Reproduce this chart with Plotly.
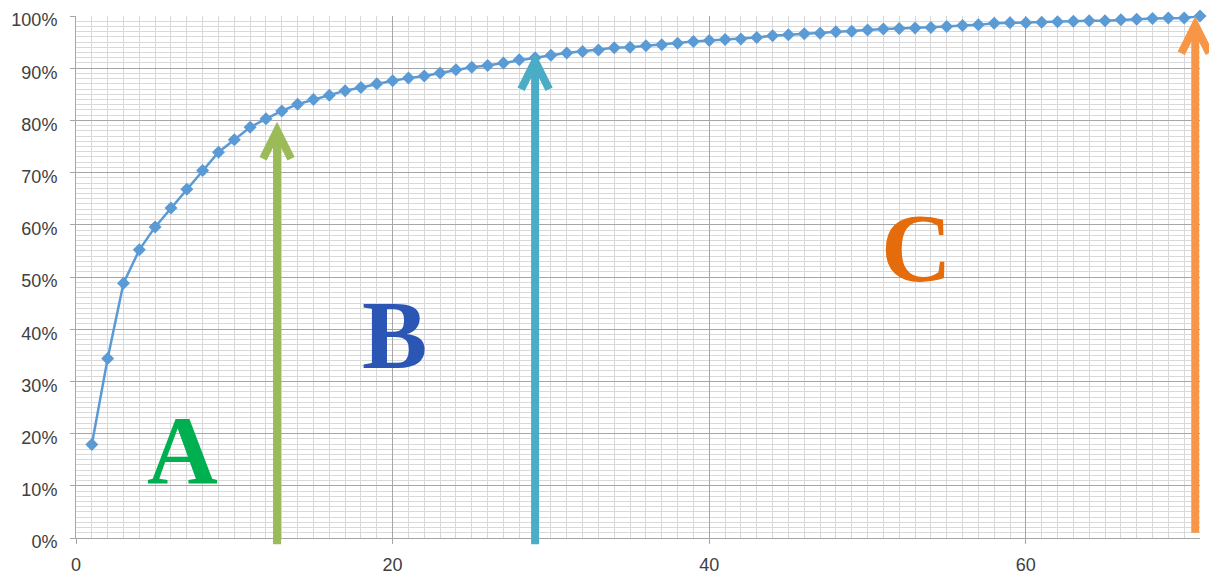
import plotly.graph_objects as go

# ---- data ----
rank = list(range(1, 72))
cum_pct = [17.9, 34.4, 48.8, 55.2, 59.6, 63.2, 66.8, 70.4, 73.9, 76.3,
           78.7, 80.3, 81.8, 83.1, 84.0, 84.8, 85.7, 86.3, 87.0, 87.6,
           88.1, 88.5, 89.1, 89.7, 90.2, 90.5, 91.0, 91.6, 92.0, 92.5,
           92.9, 93.2, 93.5, 93.9, 94.0, 94.3, 94.5, 94.8, 95.1, 95.3,
           95.5, 95.6, 95.9, 96.2, 96.4, 96.6, 96.7, 97.0, 97.1, 97.3,
           97.5, 97.6, 97.7, 97.8, 98.0, 98.2, 98.3, 98.6, 98.7, 98.7,
           98.8, 98.9, 99.0, 99.1, 99.1, 99.3, 99.4, 99.5, 99.6, 99.6, 100.0]

x_ticks = [0, 20, 40, 60]
y_ticks = list(range(0, 101, 10))
y_ticklabels = [f"{v}%" for v in y_ticks]

# class boundaries (A/B/C) marked by arrows: x position, tip %, bottom %
arrow_x = [12.7, 29.0, 70.7]
arrow_tip = [78.8, 92.1, 99.0]
arrow_bottom = [-1.2, -1.2, 1.0]
arrow_colors = ["#9BBB59", "#4BACC6", "#F79646"]

labels = ["A", "B", "C"]
label_x = [6.75, 20.1, 53.1]
label_y = [16.5, 38.5, 55.2]
label_colors = ["#00B050", "#2C56B4", "#E46C0A"]

X_RANGE = [0, 71]
Y_RANGE = [0, 100]

# page body has an 8px margin; compensate in the figure margins
W, H = 1217, 575
ML, MR, MT, MB = 68, 25, 8, 45
PW, PH = W - ML - MR, H - MT - MB

def dx(v):
    return (v - X_RANGE[0]) / (X_RANGE[1] - X_RANGE[0])

def dy(v):
    return (v - Y_RANGE[0]) / (Y_RANGE[1] - Y_RANGE[0])

fig = go.Figure()
fig.add_trace(go.Scatter(
    x=rank, y=cum_pct, mode="lines+markers",
    line=dict(color="#5B9BD5", width=2.5),
    marker=dict(symbol="diamond", size=10, color="#5B9BD5"),
    showlegend=False, cliponaxis=False,
))

shapes = []
for xv, tip, bot, col in zip(arrow_x, arrow_tip, arrow_bottom, arrow_colors):
    fx, ft, fb = dx(xv), dy(tip), dy(bot)
    tipy = ft - 4 / PH
    shapes.append(dict(type="line", xref="x domain", yref="y domain",
                       x0=fx, x1=fx, y0=fb, y1=tipy,
                       line=dict(color=col, width=8), layer="above"))
    hw, hh = 14 / PW, 28 / PH
    path = (f"M {fx - hw},{tipy - hh} L {fx},{tipy} L {fx + hw},{tipy - hh}")
    shapes.append(dict(type="path", xref="x domain", yref="y domain",
                       path=path, line=dict(color=col, width=8),
                       layer="above"))

annotations = []
for t, xv, yv, col in zip(labels, label_x, label_y, label_colors):
    annotations.append(dict(
        x=xv, y=yv, xref="x", yref="y", text=f"<b>{t}</b>", showarrow=False,
        font=dict(family="Liberation Serif, DejaVu Serif, serif", size=98,
                  color=col),
        xanchor="center", yanchor="middle", yshift=2,
    ))

axis_common = dict(
    showgrid=True, gridcolor="#A6A6A6", gridwidth=1,
    minor=dict(dtick=1, showgrid=True, gridcolor="#D9D9D9",
               gridwidth=1, ticks=""),
    showline=True, linecolor="#A6A6A6", linewidth=1,
    ticks="outside", ticklen=5, tickcolor="#A6A6A6",
    zeroline=False, fixedrange=True, automargin=False,
    ticklabeloverflow="allow",
)

fig.update_layout(
    width=W, height=H,
    margin=dict(l=ML, r=MR, t=MT, b=MB, pad=0, autoexpand=False),
    paper_bgcolor="white", plot_bgcolor="white",
    font=dict(family="Liberation Sans, Arial, sans-serif", size=18,
              color="#404040"),
    shapes=shapes, annotations=annotations,
    xaxis=dict(range=X_RANGE, tickvals=x_ticks, ticklabelstandoff=5,
               **axis_common),
    yaxis=dict(range=Y_RANGE, tickvals=y_ticks, ticktext=y_ticklabels,
               ticklabelstandoff=9, ticklabelshift=4, **axis_common),
)

fig.write_html("out.html")
